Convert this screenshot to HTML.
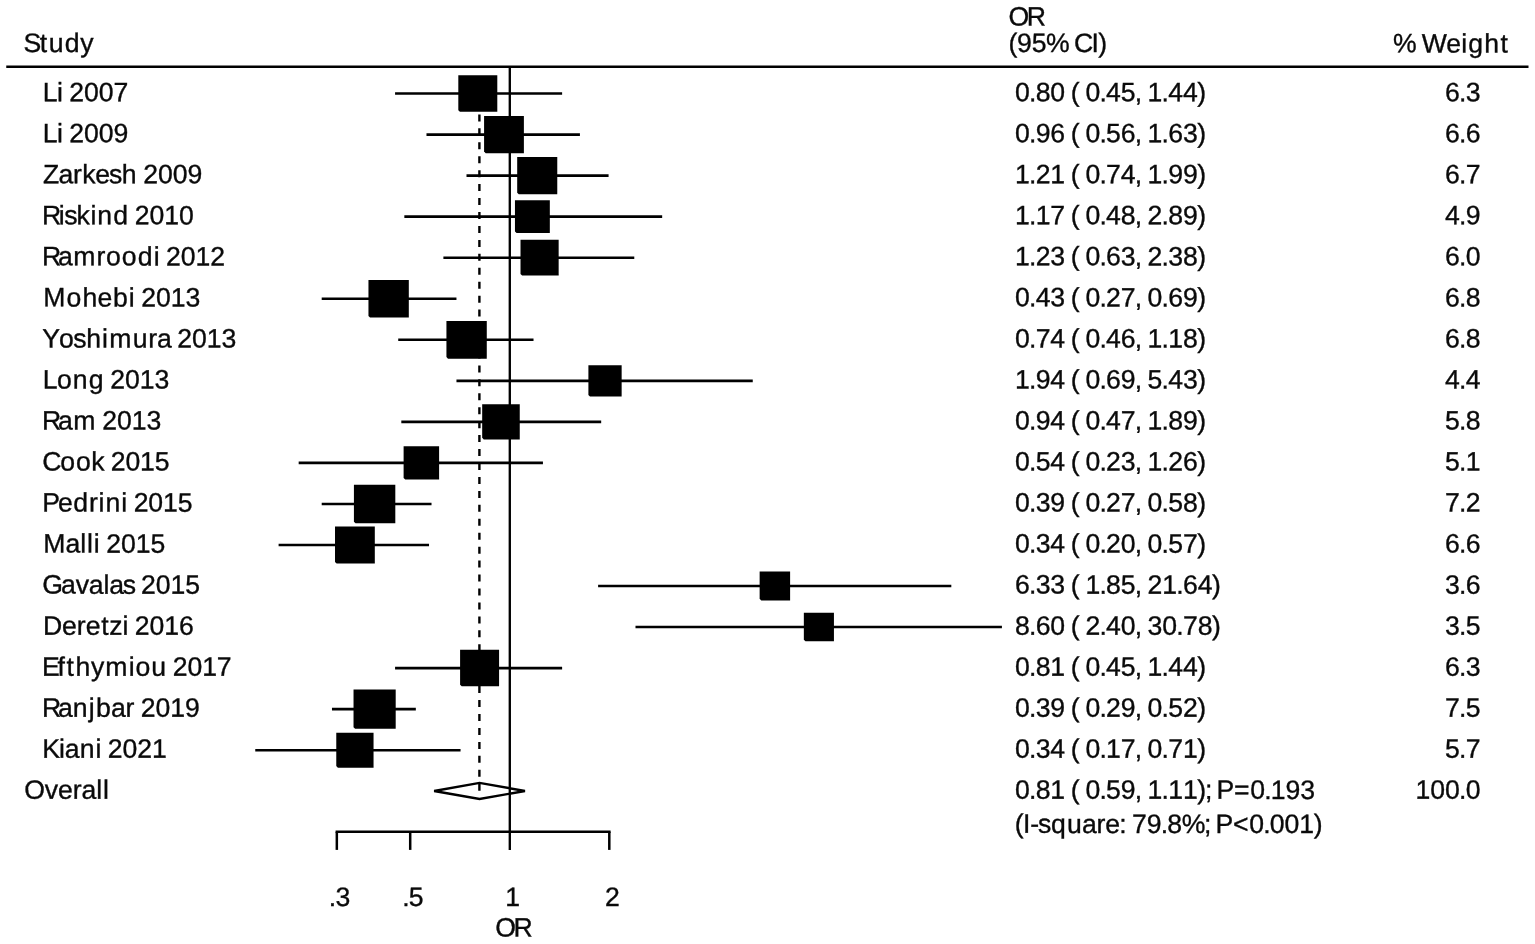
<!DOCTYPE html>
<html lang="en"><head><meta charset="utf-8"><title>Forest plot</title>
<style>html,body{margin:0;padding:0;background:#fff;}body{width:1535px;height:944px;overflow:hidden;}svg{display:block;}text{font-family:"Liberation Sans",sans-serif;font-size:26.6px;fill:#0a0a0a;stroke:#0a0a0a;stroke-width:0.35px;white-space:pre;}</style>
</head><body>
<svg width="1535" height="944" viewBox="0 0 1535 944">
<rect x="0" y="0" width="1535" height="944" fill="#fff"/>
<text x="23.48 39.80 48.76 64.76 80.36" y="52.00" transform="rotate(0.03 59.2 52.00)">Study</text>
<text x="1008.48 1026.69" y="25.40" transform="rotate(0.03 1026.4 25.40)">OR</text>
<text x="1008.45 1016.92 1031.64 1045.94 1068.47 1073.93 1091.59 1098.36" y="52.00" transform="rotate(0.03 1057.8 52.00)">(95% CI)</text>
<text x="1392.94 1415.48 1421.80 1446.29 1461.28 1468.21 1484.20 1500.62" y="52.40" transform="rotate(0.03 1451.2 52.40)">% Weight</text>
<line x1="6.25" y1="66.7" x2="1528.5" y2="66.7" stroke="#000" stroke-width="2.6"/>
<line x1="479.4" y1="114.4" x2="479.4" y2="790.9" stroke="#000" stroke-width="2.4" stroke-dasharray="7 6.944"/>
<line x1="509.80" y1="66.5" x2="509.80" y2="849.9" stroke="#000" stroke-width="2.35"/>
<text x="42.65 56.95 62.61 69.31 84.03 98.76 113.48" y="101.25" transform="rotate(0.03 85.6 101.25)">Li 2007</text>
<line x1="395.07" y1="93.55" x2="562.12" y2="93.55" stroke="#000" stroke-width="2.6"/>
<polygon points="458.31,75.31 497.30,75.31 497.30,111.79 459.91,111.79 458.31,110.19" fill="#000"/>
<text x="1014.96 1029.00 1035.63 1050.35 1064.46 1070.84 1078.69 1085.39 1099.43 1106.06 1120.78 1134.82 1140.83 1147.53 1161.56 1168.19 1182.92 1197.32" y="101.25" transform="rotate(0.03 1110.4 101.25)">0.80 ( 0.45, 1.44)</text>
<text x="1444.98 1459.01 1465.64" y="101.25" transform="rotate(0.03 1462.7 101.25)">6.3</text>
<text x="42.65 56.95 62.61 69.31 84.03 98.76 113.48" y="142.28" transform="rotate(0.03 85.6 142.28)">Li 2009</text>
<line x1="426.48" y1="134.59" x2="579.92" y2="134.59" stroke="#000" stroke-width="2.6"/>
<polygon points="484.08,115.98 523.89,115.98 523.89,153.20 485.68,153.20 484.08,151.60" fill="#000"/>
<text x="1014.96 1029.00 1035.63 1050.35 1064.46 1070.84 1078.69 1085.39 1099.43 1106.06 1120.78 1134.82 1140.83 1147.53 1161.56 1168.19 1182.92 1197.32" y="142.28" transform="rotate(0.03 1110.4 142.28)">0.96 ( 0.56, 1.63)</text>
<text x="1444.98 1459.01 1465.64" y="142.28" transform="rotate(0.03 1462.7 142.28)">6.6</text>
<text x="42.89 58.39 72.97 82.17 95.34 108.96 121.86 136.57 143.27 157.99 172.72 187.44" y="183.32" transform="rotate(0.03 122.6 183.32)">Zarkesh 2009</text>
<line x1="466.50" y1="175.63" x2="608.58" y2="175.63" stroke="#000" stroke-width="2.6"/>
<polygon points="517.19,156.90 557.27,156.90 557.27,194.36 518.79,194.36 517.19,192.76" fill="#000"/>
<text x="1014.96 1029.00 1035.63 1050.35 1064.46 1070.84 1078.69 1085.39 1099.43 1106.06 1120.78 1134.82 1140.83 1147.53 1161.56 1168.19 1182.92 1197.32" y="183.32" transform="rotate(0.03 1110.4 183.32)">1.21 ( 0.74, 1.99)</text>
<text x="1444.98 1459.01 1465.64" y="183.32" transform="rotate(0.03 1462.7 183.32)">6.7</text>
<text x="41.89 58.84 64.19 76.60 90.38 97.27 113.32 128.16 134.86 149.59 164.31 179.03" y="224.35" transform="rotate(0.03 118.4 224.35)">Riskind 2010</text>
<line x1="404.34" y1="216.67" x2="662.17" y2="216.67" stroke="#000" stroke-width="2.6"/>
<polygon points="514.96,200.29 549.83,200.29 549.83,233.05 516.56,233.05 514.96,231.45" fill="#000"/>
<text x="1014.96 1029.00 1035.63 1050.35 1064.46 1070.84 1078.69 1085.39 1099.43 1106.06 1120.78 1134.82 1140.83 1147.53 1161.56 1168.19 1182.92 1197.32" y="224.35" transform="rotate(0.03 1110.4 224.35)">1.17 ( 0.48, 2.89)</text>
<text x="1444.98 1459.01 1465.64" y="224.35" transform="rotate(0.03 1462.7 224.35)">4.9</text>
<text x="41.89 57.96 73.16 96.47 106.08 121.83 137.80 153.70 159.36 166.06 180.78 195.51 210.23" y="265.39" transform="rotate(0.03 134.0 265.39)">Ramroodi 2012</text>
<line x1="443.39" y1="257.71" x2="634.28" y2="257.71" stroke="#000" stroke-width="2.6"/>
<polygon points="520.51,239.85 558.66,239.85 558.66,275.57 522.11,275.57 520.51,273.97" fill="#000"/>
<text x="1014.96 1029.00 1035.63 1050.35 1064.46 1070.84 1078.69 1085.39 1099.43 1106.06 1120.78 1134.82 1140.83 1147.53 1161.56 1168.19 1182.92 1197.32" y="265.39" transform="rotate(0.03 1110.4 265.39)">1.23 ( 0.63, 2.38)</text>
<text x="1444.98 1459.01 1465.64" y="265.39" transform="rotate(0.03 1462.7 265.39)">6.0</text>
<text x="43.23 66.56 82.40 97.55 112.91 128.87 134.53 141.23 155.96 170.68 185.40" y="306.42" transform="rotate(0.03 121.6 306.42)">Mohebi 2013</text>
<line x1="321.70" y1="298.75" x2="456.46" y2="298.75" stroke="#000" stroke-width="2.6"/>
<polygon points="368.46,279.90 408.81,279.90 408.81,317.60 370.06,317.60 368.46,316.00" fill="#000"/>
<text x="1014.96 1029.00 1035.63 1050.35 1064.46 1070.84 1078.69 1085.39 1099.43 1106.06 1120.78 1134.82 1140.83 1147.53 1161.56 1168.19 1182.92 1197.32" y="306.42" transform="rotate(0.03 1110.4 306.42)">0.43 ( 0.27, 0.69)</text>
<text x="1444.98 1459.01 1465.64" y="306.42" transform="rotate(0.03 1462.7 306.42)">6.8</text>
<text x="42.15 59.01 73.32 86.22 101.98 109.18 132.74 148.31 156.95 170.61 177.31 192.03 206.76 221.48" y="347.46" transform="rotate(0.03 139.6 347.46)">Yoshimura 2013</text>
<line x1="398.22" y1="339.79" x2="533.52" y2="339.79" stroke="#000" stroke-width="2.6"/>
<polygon points="446.43,320.94 486.78,320.94 486.78,358.64 448.03,358.64 446.43,357.04" fill="#000"/>
<text x="1014.96 1029.00 1035.63 1050.35 1064.46 1070.84 1078.69 1085.39 1099.43 1106.06 1120.78 1134.82 1140.83 1147.53 1161.56 1168.19 1182.92 1197.32" y="347.46" transform="rotate(0.03 1110.4 347.46)">0.74 ( 0.46, 1.18)</text>
<text x="1444.98 1459.01 1465.64" y="347.46" transform="rotate(0.03 1462.7 347.46)">6.8</text>
<text x="42.65 57.03 72.87 88.86 103.62 110.32 125.05 139.77 154.49" y="388.50" transform="rotate(0.03 106.1 388.50)">Long 2013</text>
<line x1="456.46" y1="380.83" x2="752.75" y2="380.83" stroke="#000" stroke-width="2.6"/>
<polygon points="588.40,365.17 621.65,365.17 621.65,396.49 590.00,396.49 588.40,394.89" fill="#000"/>
<text x="1014.96 1029.00 1035.63 1050.35 1064.46 1070.84 1078.69 1085.39 1099.43 1106.06 1120.78 1134.82 1140.83 1147.53 1161.56 1168.19 1182.92 1197.32" y="388.50" transform="rotate(0.03 1110.4 388.50)">1.94 ( 0.69, 5.43)</text>
<text x="1444.98 1459.01 1465.64" y="388.50" transform="rotate(0.03 1462.7 388.50)">4.4</text>
<text x="41.89 57.96 73.16 95.56 102.26 116.98 131.71 146.43" y="429.53" transform="rotate(0.03 102.1 429.53)">Ram 2013</text>
<line x1="401.31" y1="421.87" x2="601.18" y2="421.87" stroke="#000" stroke-width="2.6"/>
<polygon points="482.18,404.27 519.75,404.27 519.75,439.47 483.78,439.47 482.18,437.87" fill="#000"/>
<text x="1014.96 1029.00 1035.63 1050.35 1064.46 1070.84 1078.69 1085.39 1099.43 1106.06 1120.78 1134.82 1140.83 1147.53 1161.56 1168.19 1182.92 1197.32" y="429.53" transform="rotate(0.03 1110.4 429.53)">0.94 ( 0.47, 1.89)</text>
<text x="1444.98 1459.01 1465.64" y="429.53" transform="rotate(0.03 1462.7 429.53)">5.8</text>
<text x="42.15 60.13 75.88 91.24 103.97 110.67 125.39 140.11 154.84" y="470.56" transform="rotate(0.03 106.3 470.56)">Cook 2015</text>
<line x1="298.67" y1="462.91" x2="542.94" y2="462.91" stroke="#000" stroke-width="2.6"/>
<polygon points="403.61,446.25 439.10,446.25 439.10,479.57 405.21,479.57 403.61,477.97" fill="#000"/>
<text x="1014.96 1029.00 1035.63 1050.35 1064.46 1070.84 1078.69 1085.39 1099.43 1106.06 1120.78 1134.82 1140.83 1147.53 1161.56 1168.19 1182.92 1197.32" y="470.56" transform="rotate(0.03 1110.4 470.56)">0.54 ( 0.23, 1.26)</text>
<text x="1444.98 1459.01 1465.64" y="470.56" transform="rotate(0.03 1462.7 470.56)">5.1</text>
<text x="42.28 58.06 73.34 89.10 98.62 105.50 121.27 126.93 133.63 148.35 163.07 177.80" y="511.60" transform="rotate(0.03 117.8 511.60)">Pedrini 2015</text>
<line x1="321.70" y1="503.95" x2="431.52" y2="503.95" stroke="#000" stroke-width="2.6"/>
<polygon points="353.92,484.63 395.31,484.63 395.31,523.27 355.52,523.27 353.92,521.67" fill="#000"/>
<text x="1014.96 1029.00 1035.63 1050.35 1064.46 1070.84 1078.69 1085.39 1099.43 1106.06 1120.78 1134.82 1140.83 1147.53 1161.56 1168.19 1182.92 1197.32" y="511.60" transform="rotate(0.03 1110.4 511.60)">0.39 ( 0.27, 0.58)</text>
<text x="1444.98 1459.01 1465.64" y="511.60" transform="rotate(0.03 1462.7 511.60)">7.2</text>
<text x="43.23 65.59 80.34 87.11 93.86 99.52 106.22 120.94 135.67 150.39" y="552.63" transform="rotate(0.03 104.1 552.63)">Malli 2015</text>
<line x1="278.60" y1="544.99" x2="429.02" y2="544.99" stroke="#000" stroke-width="2.6"/>
<polygon points="335.01,526.38 374.81,526.38 374.81,563.60 336.61,563.60 335.01,562.00" fill="#000"/>
<text x="1014.96 1029.00 1035.63 1050.35 1064.46 1070.84 1078.69 1085.39 1099.43 1106.06 1120.78 1134.82 1140.83 1147.53 1161.56 1168.19 1182.92 1197.32" y="552.63" transform="rotate(0.03 1110.4 552.63)">0.34 ( 0.20, 0.57)</text>
<text x="1444.98 1459.01 1465.64" y="552.63" transform="rotate(0.03 1462.7 552.63)">6.6</text>
<text x="42.28 61.06 75.63 88.70 103.44 109.30 122.65 134.33 141.03 155.76 170.48 185.20" y="593.67" transform="rotate(0.03 121.5 593.67)">Gavalas 2015</text>
<line x1="598.10" y1="586.03" x2="951.32" y2="586.03" stroke="#000" stroke-width="2.6"/>
<polygon points="759.64,571.62 790.11,571.62 790.11,600.44 761.24,600.44 759.64,598.84" fill="#000"/>
<text x="1014.96 1029.00 1035.63 1050.35 1064.46 1070.84 1078.69 1085.39 1099.43 1106.06 1120.78 1134.82 1140.83 1147.53 1162.25 1176.29 1182.92 1197.64 1212.04" y="593.67" transform="rotate(0.03 1117.8 593.67)">6.33 ( 1.85, 21.64)</text>
<text x="1444.98 1459.01 1465.64" y="593.67" transform="rotate(0.03 1462.7 593.67)">3.6</text>
<text x="42.99 61.91 76.76 85.67 101.31 109.25 122.44 128.10 134.80 149.53 164.25 178.97" y="634.70" transform="rotate(0.03 118.4 634.70)">Deretzi 2016</text>
<line x1="635.49" y1="627.07" x2="1001.92" y2="627.07" stroke="#000" stroke-width="2.6"/>
<polygon points="803.84,612.83 833.94,612.83 833.94,641.31 805.44,641.31 803.84,639.71" fill="#000"/>
<text x="1014.96 1029.00 1035.63 1050.35 1064.46 1070.84 1078.69 1085.39 1099.43 1106.06 1120.78 1134.82 1140.83 1147.53 1162.25 1176.29 1182.92 1197.64 1212.04" y="634.70" transform="rotate(0.03 1117.8 634.70)">8.60 ( 2.40, 30.78)</text>
<text x="1444.98 1459.01 1465.64" y="634.70" transform="rotate(0.03 1462.7 634.70)">3.5</text>
<text x="41.94 57.62 66.56 75.57 91.04 105.34 128.79 135.58 151.36 166.02 172.72 187.44 202.16 216.89" y="675.74" transform="rotate(0.03 137.3 675.74)">Efthymiou 2017</text>
<line x1="395.07" y1="668.11" x2="562.12" y2="668.11" stroke="#000" stroke-width="2.6"/>
<polygon points="460.09,649.87 499.08,649.87 499.08,686.35 461.69,686.35 460.09,684.75" fill="#000"/>
<text x="1014.96 1029.00 1035.63 1050.35 1064.46 1070.84 1078.69 1085.39 1099.43 1106.06 1120.78 1134.82 1140.83 1147.53 1161.56 1168.19 1182.92 1197.32" y="675.74" transform="rotate(0.03 1110.4 675.74)">0.81 ( 0.45, 1.44)</text>
<text x="1444.98 1459.01 1465.64" y="675.74" transform="rotate(0.03 1462.7 675.74)">6.3</text>
<text x="41.89 57.96 72.84 88.73 95.94 111.03 125.60 134.07 140.77 155.50 170.22 184.94" y="716.77" transform="rotate(0.03 121.4 716.77)">Ranjbar 2019</text>
<line x1="331.97" y1="709.15" x2="415.83" y2="709.15" stroke="#000" stroke-width="2.6"/>
<polygon points="353.53,689.48 395.70,689.48 395.70,728.82 355.13,728.82 353.53,727.22" fill="#000"/>
<text x="1014.96 1029.00 1035.63 1050.35 1064.46 1070.84 1078.69 1085.39 1099.43 1106.06 1120.78 1134.82 1140.83 1147.53 1161.56 1168.19 1182.92 1197.32" y="716.77" transform="rotate(0.03 1110.4 716.77)">0.39 ( 0.29, 0.52)</text>
<text x="1444.98 1459.01 1465.64" y="716.77" transform="rotate(0.03 1462.7 716.77)">7.5</text>
<text x="42.37 58.96 64.79 79.67 95.44 101.10 107.80 122.52 137.24 151.97" y="757.81" transform="rotate(0.03 104.9 757.81)">Kiani 2021</text>
<line x1="255.26" y1="750.19" x2="460.56" y2="750.19" stroke="#000" stroke-width="2.6"/>
<polygon points="336.27,732.72 373.55,732.72 373.55,767.66 337.87,767.66 336.27,766.06" fill="#000"/>
<text x="1014.96 1029.00 1035.63 1050.35 1064.46 1070.84 1078.69 1085.39 1099.43 1106.06 1120.78 1134.82 1140.83 1147.53 1161.56 1168.19 1182.92 1197.32" y="757.81" transform="rotate(0.03 1110.4 757.81)">0.34 ( 0.17, 0.71)</text>
<text x="1444.98 1459.01 1465.64" y="757.81" transform="rotate(0.03 1462.7 757.81)">5.7</text>
<text x="24.28 44.63 57.97 72.82 81.46 96.21 102.98" y="798.84" transform="rotate(0.03 67.0 798.84)">Overall</text>
<text x="1014.96 1029.00 1035.63 1050.35 1064.46 1070.84 1078.69 1085.39 1099.43 1106.06 1120.78 1134.82 1140.83 1147.53 1161.56 1168.19 1182.92 1197.32 1205.10 1211.11 1216.61 1233.91 1250.19 1264.22 1270.85 1285.58 1300.30" y="798.84" transform="rotate(0.03 1165.0 798.84)">0.81 ( 0.59, 1.11); P=0.193</text>
<text x="1415.53 1430.25 1444.98 1459.01 1465.64" y="798.84" transform="rotate(0.03 1448.0 798.84)">100.0</text>
<text x="1014.85 1023.09 1030.19 1038.05 1051.07 1067.05 1081.88 1096.45 1105.37 1119.23 1125.24 1131.95 1146.67 1160.70 1167.33 1181.63 1204.10 1210.11 1215.61 1232.90 1249.18 1263.22 1269.85 1284.57 1299.29 1313.70" y="832.95" transform="rotate(0.03 1168.7 832.95)">(I-square: 79.8%; P&lt;0.001)</text>
<polygon points="434.15,790.95 479.55,782.85 524.95,790.95 479.55,799.05" fill="none" stroke="#000" stroke-width="2.4" stroke-linejoin="miter"/>
<line x1="335.6" y1="831.8" x2="610.6" y2="831.8" stroke="#000" stroke-width="2.5"/>
<line x1="336.83" y1="831.8" x2="336.83" y2="849.9" stroke="#000" stroke-width="2.5"/>
<line x1="410.20" y1="831.8" x2="410.20" y2="849.9" stroke="#000" stroke-width="2.5"/>
<line x1="609.30" y1="831.8" x2="609.30" y2="849.9" stroke="#000" stroke-width="2.5"/>
<text x="328.78 335.41" y="906.00" transform="rotate(0.03 339.8 906.00)">.3</text>
<text x="402.14 408.77" y="906.00" transform="rotate(0.03 413.2 906.00)">.5</text>
<text x="505.35" y="906.00" transform="rotate(0.03 512.8 906.00)">1</text>
<text x="604.90" y="906.00" transform="rotate(0.03 612.3 906.00)">2</text>
<text x="495.28 513.49" y="936.40" transform="rotate(0.03 513.2 936.40)">OR</text>
</svg>
</body></html>
